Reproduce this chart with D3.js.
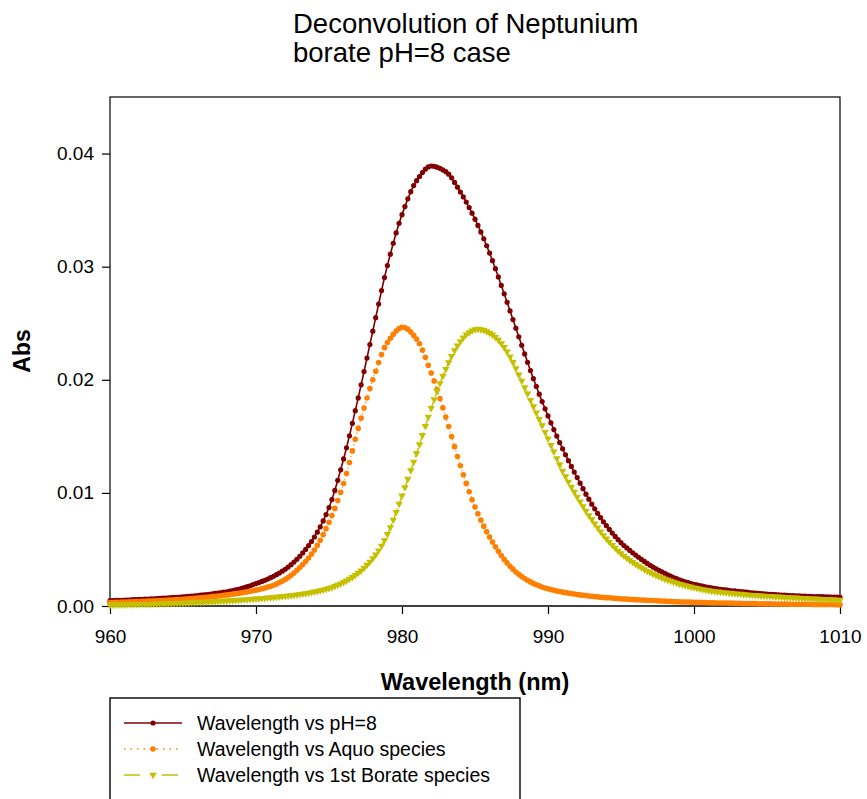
<!DOCTYPE html>
<html>
<head>
<meta charset="utf-8">
<script src="https://cdn.jsdelivr.net/npm/d3@7"></script>
<style>
body{margin:0;background:#fff}
</style>
</head>
<body>
<script>
// wavelengths (nm), one sample every 0.2 nm
var wavelength=[
960,960.2,960.4,960.6,960.8,961,961.2,961.4,961.6,961.8,962,962.2,962.4,962.6,962.8,963,963.2,963.4,963.6,963.8,
964,964.2,964.4,964.6,964.8,965,965.2,965.4,965.6,965.8,966,966.2,966.4,966.6,966.8,967,967.2,967.4,967.6,967.8,
968,968.2,968.4,968.6,968.8,969,969.2,969.4,969.6,969.8,970,970.2,970.4,970.6,970.8,971,971.2,971.4,971.6,971.8,
972,972.2,972.4,972.6,972.8,973,973.2,973.4,973.6,973.8,974,974.2,974.4,974.6,974.8,975,975.2,975.4,975.6,975.8,
976,976.2,976.4,976.6,976.8,977,977.2,977.4,977.6,977.8,978,978.2,978.4,978.6,978.8,979,979.2,979.4,979.6,979.8,
980,980.2,980.4,980.6,980.8,981,981.2,981.4,981.6,981.8,982,982.2,982.4,982.6,982.8,983,983.2,983.4,983.6,983.8,
984,984.2,984.4,984.6,984.8,985,985.2,985.4,985.6,985.8,986,986.2,986.4,986.6,986.8,987,987.2,987.4,987.6,987.8,
988,988.2,988.4,988.6,988.8,989,989.2,989.4,989.6,989.8,990,990.2,990.4,990.6,990.8,991,991.2,991.4,991.6,991.8,
992,992.2,992.4,992.6,992.8,993,993.2,993.4,993.6,993.8,994,994.2,994.4,994.6,994.8,995,995.2,995.4,995.6,995.8,
996,996.2,996.4,996.6,996.8,997,997.2,997.4,997.6,997.8,998,998.2,998.4,998.6,998.8,999,999.2,999.4,999.6,999.8,
1000,1000.2,1000.4,1000.6,1000.8,1001,1001.2,1001.4,1001.6,1001.8,1002,1002.2,1002.4,1002.6,1002.8,1003,1003.2,1003.4,1003.6,1003.8,
1004,1004.2,1004.4,1004.6,1004.8,1005,1005.2,1005.4,1005.6,1005.8,1006,1006.2,1006.4,1006.6,1006.8,1007,1007.2,1007.4,1007.6,1007.8,
1008,1008.2,1008.4,1008.6,1008.8,1009,1009.2,1009.4,1009.6,1009.8,1010]

// Abs, measured pH=8 spectrum
var absPH8=[
0.00047,0.00048,0.00049,0.00050,0.00051,0.00052,0.00053,0.00055,0.00056,0.00057,0.00058,0.00059,0.00060,0.00062,0.00063,0.00064,0.00066,0.00067,0.00069,0.00070,
0.00072,0.00074,0.00076,0.00077,0.00079,0.00081,0.00084,0.00086,0.00088,0.00090,0.00093,0.00096,0.00098,0.00101,0.00104,0.00107,0.00111,0.00114,0.00118,0.00122,
0.00126,0.00131,0.00136,0.00142,0.00148,0.00155,0.00162,0.00171,0.00179,0.00189,0.00198,0.00207,0.00217,0.00227,0.00238,0.00250,0.00263,0.00277,0.00291,0.00308,
0.00325,0.00344,0.00365,0.00388,0.00413,0.00440,0.00469,0.00500,0.00534,0.00570,0.00610,0.00653,0.00700,0.00752,0.00808,0.00870,0.00941,0.01022,0.01111,0.01204,
0.01300,0.01399,0.01505,0.01615,0.01727,0.01840,0.01955,0.02073,0.02192,0.02312,0.02430,0.02549,0.02670,0.02789,0.02904,0.03010,0.03110,0.03207,0.03298,0.03383,
0.03460,0.03531,0.03600,0.03663,0.03717,0.03760,0.03797,0.03832,0.03862,0.03882,0.03890,0.03887,0.03880,0.03869,0.03855,0.03840,0.03818,0.03785,0.03745,0.03703,
0.03660,0.03617,0.03571,0.03523,0.03473,0.03420,0.03365,0.03307,0.03247,0.03185,0.03120,0.03053,0.02982,0.02909,0.02834,0.02760,0.02685,0.02609,0.02532,0.02456,
0.02380,0.02305,0.02229,0.02154,0.02081,0.02010,0.01941,0.01873,0.01807,0.01743,0.01680,0.01619,0.01560,0.01502,0.01445,0.01390,0.01337,0.01285,0.01234,0.01184,
0.01135,0.01086,0.01037,0.00989,0.00944,0.00900,0.00859,0.00819,0.00781,0.00744,0.00710,0.00677,0.00645,0.00615,0.00586,0.00560,0.00535,0.00513,0.00491,0.00470,
0.00450,0.00431,0.00412,0.00394,0.00376,0.00360,0.00344,0.00329,0.00315,0.00301,0.00288,0.00276,0.00264,0.00252,0.00242,0.00232,0.00223,0.00214,0.00206,0.00199,
0.00192,0.00186,0.00180,0.00175,0.00170,0.00165,0.00161,0.00156,0.00152,0.00148,0.00145,0.00142,0.00139,0.00135,0.00133,0.00130,0.00127,0.00124,0.00122,0.00119,
0.00117,0.00115,0.00112,0.00110,0.00108,0.00106,0.00104,0.00102,0.00100,0.00099,0.00097,0.00096,0.00094,0.00093,0.00092,0.00090,0.00089,0.00088,0.00087,0.00086,
0.00085,0.00084,0.00083,0.00082,0.00082,0.00081,0.00080,0.00079,0.00079,0.00078,0.00077]

// Abs, aquo species component
var absAquo=[
0.00030,0.00031,0.00032,0.00033,0.00034,0.00035,0.00036,0.00037,0.00038,0.00039,0.00040,0.00041,0.00042,0.00043,0.00044,0.00046,0.00047,0.00048,0.00049,0.00051,
0.00052,0.00053,0.00055,0.00057,0.00058,0.00060,0.00062,0.00064,0.00066,0.00068,0.00070,0.00072,0.00075,0.00077,0.00080,0.00083,0.00085,0.00088,0.00091,0.00095,
0.00098,0.00101,0.00105,0.00109,0.00112,0.00116,0.00121,0.00125,0.00130,0.00135,0.00140,0.00146,0.00152,0.00159,0.00167,0.00175,0.00184,0.00195,0.00207,0.00220,
0.00235,0.00252,0.00271,0.00292,0.00315,0.00340,0.00366,0.00394,0.00425,0.00459,0.00495,0.00536,0.00581,0.00631,0.00684,0.00740,0.00799,0.00863,0.00932,0.01005,
0.01083,0.01171,0.01269,0.01371,0.01474,0.01570,0.01661,0.01751,0.01839,0.01922,0.02000,0.02076,0.02152,0.02223,0.02284,0.02330,0.02367,0.02401,0.02431,0.02453,
0.02464,0.02462,0.02447,0.02423,0.02393,0.02360,0.02319,0.02263,0.02199,0.02129,0.02060,0.01989,0.01913,0.01834,0.01752,0.01670,0.01586,0.01498,0.01409,0.01322,
0.01240,0.01161,0.01084,0.01010,0.00940,0.00875,0.00815,0.00759,0.00706,0.00657,0.00610,0.00565,0.00523,0.00483,0.00446,0.00412,0.00381,0.00352,0.00326,0.00301,
0.00280,0.00261,0.00243,0.00227,0.00213,0.00200,0.00188,0.00178,0.00168,0.00159,0.00152,0.00145,0.00139,0.00133,0.00128,0.00123,0.00118,0.00114,0.00110,0.00106,
0.00102,0.00098,0.00095,0.00092,0.00089,0.00086,0.00083,0.00081,0.00078,0.00076,0.00074,0.00072,0.00070,0.00068,0.00066,0.00064,0.00062,0.00061,0.00059,0.00058,
0.00056,0.00055,0.00053,0.00052,0.00050,0.00049,0.00048,0.00046,0.00045,0.00044,0.00043,0.00042,0.00041,0.00039,0.00038,0.00037,0.00036,0.00035,0.00035,0.00034,
0.00033,0.00032,0.00032,0.00031,0.00030,0.00029,0.00029,0.00028,0.00027,0.00027,0.00026,0.00026,0.00025,0.00025,0.00024,0.00023,0.00023,0.00022,0.00022,0.00022,
0.00021,0.00021,0.00020,0.00020,0.00019,0.00019,0.00019,0.00018,0.00018,0.00018,0.00017,0.00017,0.00017,0.00016,0.00016,0.00016,0.00016,0.00015,0.00015,0.00015,
0.00015,0.00014,0.00014,0.00014,0.00014,0.00013,0.00013,0.00013,0.00013,0.00012,0.00012]

// Abs, 1st borate species component
var absBorate=[
0.00010,0.00010,0.00011,0.00011,0.00012,0.00012,0.00013,0.00013,0.00014,0.00014,0.00015,0.00016,0.00016,0.00017,0.00017,0.00018,0.00019,0.00020,0.00020,0.00021,
0.00022,0.00023,0.00024,0.00025,0.00026,0.00027,0.00028,0.00029,0.00031,0.00032,0.00033,0.00034,0.00036,0.00037,0.00038,0.00040,0.00041,0.00042,0.00044,0.00045,
0.00047,0.00049,0.00050,0.00052,0.00053,0.00055,0.00057,0.00058,0.00060,0.00062,0.00064,0.00066,0.00068,0.00070,0.00073,0.00075,0.00077,0.00080,0.00083,0.00085,
0.00088,0.00091,0.00094,0.00097,0.00100,0.00104,0.00108,0.00112,0.00116,0.00121,0.00126,0.00131,0.00137,0.00143,0.00150,0.00157,0.00165,0.00175,0.00186,0.00197,
0.00210,0.00224,0.00239,0.00255,0.00273,0.00292,0.00313,0.00337,0.00363,0.00390,0.00420,0.00453,0.00490,0.00532,0.00581,0.00635,0.00695,0.00761,0.00830,0.00902,
0.00975,0.01048,0.01123,0.01198,0.01273,0.01350,0.01429,0.01510,0.01590,0.01671,0.01750,0.01826,0.01900,0.01969,0.02034,0.02095,0.02154,0.02210,0.02259,0.02302,
0.02340,0.02373,0.02400,0.02418,0.02434,0.02446,0.02450,0.02446,0.02438,0.02427,0.02415,0.02399,0.02377,0.02352,0.02322,0.02288,0.02249,0.02204,0.02155,0.02101,
0.02045,0.01989,0.01933,0.01877,0.01821,0.01765,0.01709,0.01653,0.01596,0.01538,0.01480,0.01422,0.01364,0.01306,0.01249,0.01195,0.01145,0.01098,0.01052,0.01008,
0.00965,0.00922,0.00880,0.00840,0.00802,0.00765,0.00728,0.00692,0.00658,0.00625,0.00595,0.00566,0.00539,0.00513,0.00488,0.00465,0.00444,0.00424,0.00405,0.00387,
0.00370,0.00354,0.00338,0.00323,0.00309,0.00296,0.00284,0.00272,0.00261,0.00250,0.00240,0.00230,0.00221,0.00212,0.00204,0.00196,0.00189,0.00182,0.00175,0.00169,
0.00163,0.00157,0.00152,0.00147,0.00142,0.00138,0.00134,0.00130,0.00127,0.00124,0.00121,0.00118,0.00115,0.00113,0.00110,0.00108,0.00106,0.00103,0.00101,0.00099,
0.00097,0.00095,0.00093,0.00091,0.00090,0.00088,0.00086,0.00085,0.00083,0.00082,0.00080,0.00078,0.00077,0.00076,0.00074,0.00073,0.00071,0.00070,0.00069,0.00067,
0.00066,0.00065,0.00063,0.00062,0.00061,0.00060,0.00059,0.00058,0.00056,0.00055,0.00054]

var xTicks=[960,970,980,990,1000,1010]
var yTicks=[0,0.01,0.02,0.03,0.04]
var titleLines=["Deconvolution of Neptunium","borate pH=8 case"]
var legendLabels=["Wavelength vs pH=8","Wavelength vs Aquo species","Wavelength vs 1st Borate species"]

var font='"Liberation Sans", Arial, Helvetica, sans-serif'

var drawChart=function(){
  var screen={width:867,height:799}
  var margin={top:97,right:27,bottom:193,left:110}
  var w=screen.width-margin.left-margin.right
  var h=screen.height-margin.top-margin.bottom

  var xScale=d3.scaleLinear()
    .domain([960,1010])
    .range([margin.left,margin.left+w])
  var yScale=d3.scaleLinear()
    .domain([0,0.045])
    .range([margin.top+h,margin.top])

  var svg=d3.select("body").append("svg")
    .attr('width',screen.width)
    .attr('height',screen.height)
    .style('font-family',font)

  // title
  svg.selectAll(".title")
    .data(titleLines)
    .enter()
    .append("text")
    .attr('class','title')
    .attr('x',293)
    .attr('y',function(d,i){return 33+i*29})
    .attr('font-size',27.5)
    .attr('fill','#000')
    .text(function(d){return d})

  // frame
  svg.append("rect")
    .attr('x',margin.left)
    .attr('y',margin.top)
    .attr('width',w)
    .attr('height',h)
    .attr('fill','none')
    .attr('stroke','#000')
    .attr('stroke-width',1.2)

  // axes
  var yAxis=d3.axisLeft(yScale)
    .tickValues(yTicks)
    .tickFormat(d3.format(".2f"))
    .tickSize(8)
    .tickPadding(8)
  var gy=svg.append("g")
    .attr('transform','translate('+margin.left+',0)')
    .call(yAxis)
  gy.select(".domain").remove()
  gy.selectAll("line").attr('stroke','#000').attr('stroke-width',1.2)
  gy.selectAll("text").attr('font-size',19).attr('font-family',font).attr('fill','#000')

  var xAxis=d3.axisBottom(xScale)
    .tickValues(xTicks)
    .tickFormat(d3.format("d"))
    .tickSize(8)
    .tickPadding(16)
  var gx=svg.append("g")
    .attr('transform','translate(0,'+(margin.top+h)+')')
    .call(xAxis)
  gx.select(".domain").remove()
  gx.selectAll("line").attr('stroke','#000').attr('stroke-width',1.2)
  gx.selectAll("text").attr('font-size',19).attr('font-family',font).attr('fill','#000')

  svg.append("line")
    .attr('x1',margin.left).attr('x2',margin.left+w)
    .attr('y1',margin.top+h).attr('y2',margin.top+h)
    .attr('stroke','#404040')
    .attr('stroke-width',2.2)

  // axis titles
  svg.append("text")
    .attr('transform','translate(30,351) rotate(-90)')
    .attr('text-anchor','middle')
    .attr('font-size',23)
    .attr('font-weight','bold')
    .text("Abs")
  svg.append("text")
    .attr('x',margin.left+w/2)
    .attr('y',690)
    .attr('text-anchor','middle')
    .attr('font-size',23.5)
    .attr('font-weight','bold')
    .text("Wavelength (nm)")

  // series
  var series=[
    {values:absPH8,color:'#800000',dash:null,width:1.6,marker:'circle',size:2.6},
    {values:absAquo,color:'#ff8000',dash:'1,3',width:1.3,marker:'circle',size:2.8},
    {values:absBorate,color:'#c4c000',dash:'10,6',width:1.4,marker:'triangle',size:24}
  ]
  var line=d3.line()
    .x(function(d){return xScale(d[0])})
    .y(function(d){return yScale(d[1])})
  var tri=d3.symbol().type(d3.symbolTriangle)

  series.forEach(function(s){
    var rows=d3.zip(wavelength,s.values)
    var g=svg.append("g")
    g.append("path")
      .datum(rows)
      .attr('d',line)
      .attr('fill','none')
      .attr('stroke',s.color)
      .attr('stroke-width',s.width)
      .attr('stroke-dasharray',s.dash)
    if(s.marker=='circle'){
      g.selectAll("circle")
        .data(rows)
        .enter()
        .append("circle")
        .attr('cx',function(d){return xScale(d[0])})
        .attr('cy',function(d){return yScale(d[1])})
        .attr('r',s.size)
        .attr('fill',s.color)
    }else{
      g.selectAll("path.mk")
        .data(rows)
        .enter()
        .append("path")
        .attr('class','mk')
        .attr('d',tri.size(s.size))
        .attr('transform',function(d){return 'translate('+xScale(d[0])+','+yScale(d[1])+') rotate(180)'})
        .attr('fill',s.color)
    }
  })

  // legend
  var lg=svg.append("g")
  lg.append("rect")
    .attr('x',110).attr('y',698)
    .attr('width',410).attr('height',130)
    .attr('fill','none')
    .attr('stroke','#000')
    .attr('stroke-width',1.4)
  var ly=function(i){return 723+i*26}
  legendLabels.forEach(function(lab,i){
    var s=series[i]
    lg.append("line")
      .attr('x1',124).attr('x2',182)
      .attr('y1',ly(i)).attr('y2',ly(i))
      .attr('stroke',s.color)
      .attr('stroke-width',s.width)
      .attr('stroke-dasharray',i==0?null:(i==1?'1.5,5':'16,22'))
    if(s.marker=='circle'){
      lg.append("circle").attr('cx',153).attr('cy',ly(i)).attr('r',s.size).attr('fill',s.color)
    }else{
      lg.append("path").attr('d',tri.size(s.size))
        .attr('transform','translate(153,'+ly(i)+') rotate(180)')
        .attr('fill',s.color)
    }
    lg.append("text")
      .attr('x',197)
      .attr('y',ly(i)+7)
      .attr('font-size',19.5)
      .attr('fill','#000')
      .text(lab)
  })
}

drawChart()
</script>
</body>
</html>
